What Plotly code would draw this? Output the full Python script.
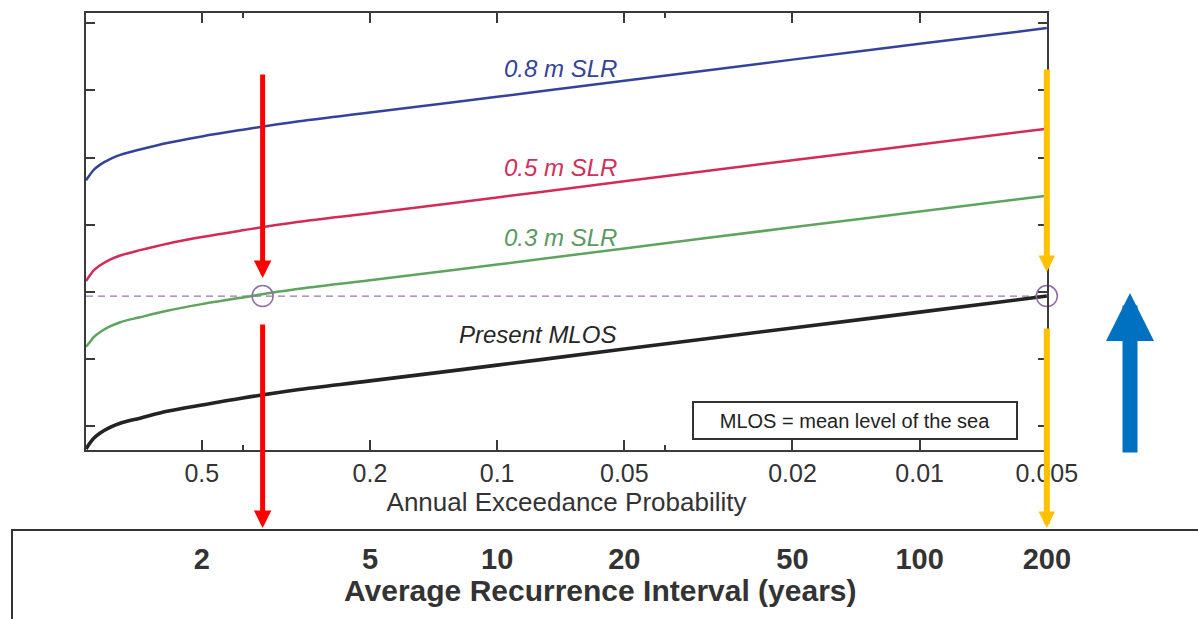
import math
import plotly.graph_objects as go

# ---------------- data ----------------
aep = [0.94, 0.92, 0.9, 0.87, 0.82, 0.78, 0.7, 0.6, 0.5, 0.4, 0.3, 0.2, 0.1, 0.05, 0.02, 0.01, 0.005]
present_mlos = [1.531, 1.549, 1.564, 1.579, 1.597, 1.608, 1.623, 1.644, 1.662, 1.683, 1.707, 1.734,
                1.781, 1.829, 1.892, 1.939, 1.987]
slr_03 = [1.836, 1.850, 1.865, 1.880, 1.898, 1.909, 1.924, 1.944, 1.963, 1.983, 2.007, 2.034,
          2.081, 2.129, 2.192, 2.239, 2.286]
slr_05 = [2.032, 2.049, 2.064, 2.079, 2.097, 2.108, 2.124, 2.144, 2.163, 2.183, 2.207, 2.234,
          2.281, 2.329, 2.392, 2.439, 2.486]
slr_08 = [2.332, 2.349, 2.364, 2.379, 2.397, 2.408, 2.424, 2.444, 2.463, 2.483, 2.507, 2.534,
          2.581, 2.629, 2.692, 2.739, 2.786]

aep_ticks = [0.5, 0.2, 0.1, 0.05, 0.02, 0.01, 0.005]
aep_ticktext = ["0.5", "0.2", "0.1", "0.05", "0.02", "0.01", "0.005"]
aep_minor = [0.4, 0.04]
ari_ticks = [2, 5, 10, 20, 50, 100, 200]
ari_ticktext = ["2", "5", "10", "20", "50", "100", "200"]
level_ticks = [1.6, 1.8, 2.0, 2.2, 2.4, 2.6, 2.8]

present_200yr_level = 1.987
circle_aep = [0.359, 0.005]
circle_level = [1.987, 1.987]

series_labels = ["0.8 m SLR", "0.5 m SLR", "0.3 m SLR", "Present MLOS"]
label_aep = [0.0708, 0.0708, 0.0708, 0.0802]
label_level = [2.667, 2.369, 2.163, 1.871]

# ---------------- style ----------------
FONT = "Liberation Sans, Arial, sans-serif"
C_BLUE, C_RED, C_GREEN, C_BLACK = "#34439a", "#d42a58", "#5ea45e", "#232323"
C_LABEL = [C_BLUE, "#d0305a", "#5a9a60", "#262626"]
AX = "#3a3a3a"

x_range = [math.log10(0.94), math.log10(0.005) - 0.0004]
y_range = [1.528, 2.831]
plot_bottom_frac = (619 - 450) / 606.0

fig = go.Figure()
fig.add_trace(go.Scatter(x=[aep[0], aep[-1]], y=[present_200yr_level, present_200yr_level],
                         mode="lines", line=dict(color="#9a78aa", width=1.3, dash="7px,5px"),
                         hoverinfo="skip", showlegend=False))
for ys, col, w in [(slr_08, C_BLUE, 2.5), (slr_05, C_RED, 2.5), (slr_03, C_GREEN, 2.5),
                   (present_mlos, C_BLACK, 3.6)]:
    fig.add_trace(go.Scatter(x=aep, y=ys, mode="lines",
                             line=dict(color=col, width=w, shape="spline", smoothing=1.0),
                             showlegend=False))
fig.add_trace(go.Scatter(x=circle_aep, y=circle_level, mode="markers", cliponaxis=False,
                         marker=dict(symbol="circle-open", size=21, color="#8c6ea6",
                                     line=dict(width=1.5, color="#8c6ea6")),
                         showlegend=False))
# helper trace for the ARI axis
fig.add_trace(go.Scatter(x=ari_ticks, y=[None] * len(ari_ticks), xaxis="x2", yaxis="y",
                         mode="markers", showlegend=False, hoverinfo="skip"))

annotations = []
for txt, xa, ya, col in zip(series_labels, label_aep, label_level, C_LABEL):
    annotations.append(dict(x=math.log10(xa), y=ya, xref="x", yref="y", text=txt, showarrow=False,
                            font=dict(family=FONT, size=24, color=col, style="italic"),
                            xanchor="center", yanchor="middle"))

annotations.append(dict(x=(855 - 86) / 961.0, y=(619 - 420.5) / 606.0, xref="paper", yref="paper",
                        text="MLOS = mean level of the sea", showarrow=False,
                        font=dict(family=FONT, size=20, color="#222"),
                        bordercolor="#333", borderwidth=2, borderpad=2, width=318, height=31,
                        bgcolor="white", xanchor="center", yanchor="middle"))

annotations.append(dict(x=(600 - 86) / 961.0, y=(619 - 590) / 606.0, xref="paper", yref="paper",
                        text="Average Recurrence Interval (years)", showarrow=False,
                        font=dict(family=FONT, size=30, color="#333", weight="bold"),
                        xanchor="center", yanchor="middle"))

def arrow(x, y, xref, yref, ay, color, width, size):
    return dict(x=x, y=y, xref=xref, yref=yref, ax=0, ay=ay, axref="pixel", ayref="pixel",
                text="", showarrow=True, arrowhead=2, arrowsize=size, arrowwidth=width,
                arrowcolor=color, standoff=0)

tip_low = (619 - 528) / 606.0
annotations += [
    arrow(math.log10(circle_aep[0]), 2.041, "x", "y", -205, "#ff0000", 5, 0.7),
    arrow(math.log10(circle_aep[0]), tip_low, "x", "paper", -205, "#ff0000", 5, 0.7),
    arrow(math.log10(circle_aep[1]), 2.059, "x", "y", -204, "#ffc000", 6, 0.55),
    arrow(math.log10(circle_aep[1]), tip_low, "x", "paper", -201, "#ffc000", 6, 0.55),
    arrow((1130 - 86) / 961.0, (619 - 293) / 606.0, "paper", "paper", 161, "#0070c0", 15, 0.64),
]

shapes = [dict(type="rect", xref="paper", yref="paper", x0=(12 - 86) / 961.0, x1=1.3,
               y0=-0.1, y1=(619 - 530) / 606.0, line=dict(color="#333", width=2),
               fillcolor="rgba(0,0,0,0)", layer="below")]

fig.update_layout(
    width=1198, height=619,
    margin=dict(l=86, r=151, t=13, b=0, pad=0),
    paper_bgcolor="white", plot_bgcolor="white",
    font=dict(family=FONT, color="#333"),
    xaxis=dict(type="log", range=x_range, tickvals=aep_ticks, ticktext=aep_ticktext,
               ticks="inside", ticklen=10, tickwidth=1.5, tickcolor=AX,
               minor=dict(tickvals=aep_minor, ticks="inside", ticklen=5, tickwidth=1.5, tickcolor=AX),
               showline=True, linecolor=AX, linewidth=1.6, mirror="ticks", showgrid=False,
               zeroline=False, tickfont=dict(family=FONT, size=25, color="#333"),
               title=dict(text="Annual Exceedance Probability", standoff=6,
                          font=dict(family=FONT, size=26, color="#333")),
               anchor="y"),
    xaxis2=dict(type="log", range=[-x_range[0], -x_range[1]], overlaying="x", anchor="free",
                position=(619 - 539) / 606.0, tickvals=ari_ticks, ticktext=ari_ticktext,
                ticks="", showline=False, showgrid=False, zeroline=False,
                tickfont=dict(family=FONT, size=29, color="#333", weight="bold")),
    yaxis=dict(domain=[plot_bottom_frac, 1], range=y_range, tickvals=level_ticks,
               showticklabels=False, ticks="inside", ticklen=9, tickwidth=1.5, tickcolor=AX,
               showline=True, linecolor=AX, linewidth=1.6, mirror="ticks", showgrid=False,
               zeroline=False),
    annotations=annotations,
    shapes=shapes,
    showlegend=False,
)

fig.write_html("out.html")
